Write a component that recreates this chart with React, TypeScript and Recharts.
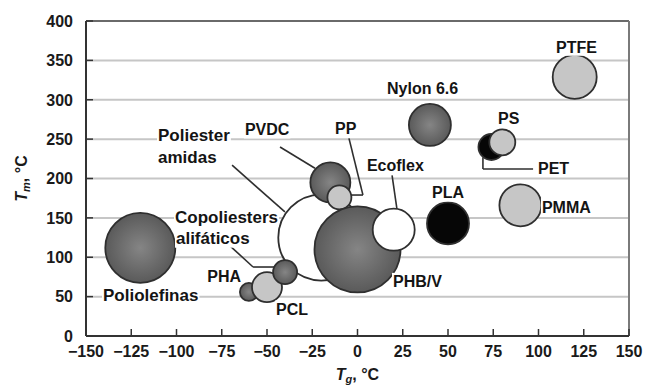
import { ScatterChart, Scatter, XAxis, YAxis, ZAxis, CartesianGrid, ReferenceLine } from "recharts"

// Polímeros: transición vítrea (Tg) y fusión (Tm) en °C, tamaño relativo de la burbuja
const polymers = ["Poliolefinas", "PHA", "PCL", "Poliester amidas", "Copoliesters alifáticos", "PVDC", "PP", "PHB/V", "Ecoflex", "PLA", "Nylon 6.6", "PET", "PS", "PMMA", "PTFE"]
const tg = [-120, -60, -50, -20, -40, -15, -10, 0, 20, 50, 40, 74, 80, 90, 120]
const tm = [112, 56, 62, 125, 81, 195, 176, 110, 135, 143, 268, 240, 246, 166, 329]
const bubbleSize = [1225, 81, 225, 1850, 144, 400, 144, 1850, 441, 441, 441, 169, 169, 441, 484]

const xTicks = [-150, -125, -100, -75, -50, -25, 0, 25, 50, 75, 100, 125, 150]
const yTicks = [0, 50, 100, 150, 200, 250, 300, 350, 400]

// Etiquetas (posición en unidades de los ejes)
const labelText = ["Poliolefinas", "PHA", "PCL", "Copoliesters", "alifáticos", "Poliester", "amidas", "PVDC", "PP", "Nylon 6.6", "Ecoflex", "PS", "PET", "PLA", "PMMA", "PTFE", "PHB/V"]
const labelTg = [-140.6, -83, -45, -100.8, -100.3, -110.2, -110.2, -62.2, -12.4, 16.3, 5.2, 77.6, 99.7, 41.2, 101.9, 109.7, 19.6]
const labelTm = [52, 76, 34, 151, 124, 255, 227, 262, 264, 315, 217, 276, 213, 182, 164, 367, 69]

// Líneas guía de las etiquetas
const leaders: [number, number][][] = [
  [[-69.3, 217], [-40.1, 157.5]],
  [[-42.8, 240], [-23.5, 213]],
  [[-4.7, 251], [3, 179], [-3.6, 179]],
  [[19.1, 204], [21.8, 161]],
  [[69.3, 227], [69.3, 212], [97, 212]],
  [[-72.1, 118], [-57.7, 87.6], [-46, 87.6]],
]

const tone: Record<string, string> = {
  "Poliolefinas": "url(#dark)",
  "PHA": "url(#dark)",
  "PCL": "#c6c6c6",
  "Poliester amidas": "#ffffff",
  "Copoliesters alifáticos": "url(#dark)",
  "PVDC": "url(#dark)",
  "PP": "#c6c6c6",
  "PHB/V": "url(#dark)",
  "Ecoflex": "#ffffff",
  "PLA": "#060606",
  "Nylon 6.6": "url(#dark)",
  "PET": "#060606",
  "PS": "#c6c6c6",
  "PMMA": "#c6c6c6",
  "PTFE": "#c6c6c6",
}

const bigLabels = new Set(["Poliolefinas", "Copoliesters", "alifáticos", "Poliester", "amidas"])

const FONT = '"Liberation Sans", Arial, sans-serif'

const bubbles = polymers.map((name, i) => ({ name, tg: tg[i], tm: tm[i], size: bubbleSize[i] }))
const labels = labelText.map((text, i) => ({ text, tg: labelTg[i], tm: labelTm[i] }))

const ctx = typeof document !== "undefined" ? document.createElement("canvas").getContext("2d") : null
const textWidth = (text: string, size: number) => {
  if (!ctx) return text.length * size * 0.6
  ctx.font = `bold ${size}px ${FONT}`
  return ctx.measureText(text).width
}

const Bubble = (props: any) => {
  const { cx, cy, width, payload } = props
  return <circle cx={cx} cy={cy} r={width / 2} fill={tone[payload.name]} stroke="#2f2f2f" strokeWidth={1.8} />
}

const LabelMark = (props: any) => {
  const { cx, cy, payload } = props
  const fs = bigLabels.has(payload.text) ? 17 : 16
  const w = textWidth(payload.text, fs)
  return (
    <g>
      <rect x={cx - 1} y={cy - fs * 0.55} width={w + 2} height={fs * 1.1} fill="#fff" />
      <text x={cx} y={cy} dy="0.36em" fontSize={fs} fontWeight="bold" fontFamily={FONT} fill="#141414">
        {payload.text}
      </text>
    </g>
  )
}

const XTick = ({ x, y, payload }: any) => (
  <g>
    <line x1={x} x2={x} y1={y - 10} y2={y - 17} stroke="#333" strokeWidth={1.5} />
    <text x={x} y={y} dy="0.71em" textAnchor="middle" fontSize={16} fontWeight="bold" fontFamily={FONT} fill="#1a1a1a">
      {String(payload.value).replace("-", "\u2212")}
    </text>
  </g>
)

const YTick = ({ x, y, payload }: any) => (
  <g>
    <line x1={x + 13} x2={x + 20} y1={y} y2={y} stroke="#333" strokeWidth={1.5} />
    <text x={x} y={y} dy="0.36em" textAnchor="end" fontSize={16} fontWeight="bold" fontFamily={FONT} fill="#1a1a1a">
      {payload.value}
    </text>
  </g>
)

const XTitle = ({ viewBox }: any) => {
  const cx = viewBox.x + viewBox.width / 2
  const cy = viewBox.y + 38
  return (
    <text x={cx} y={cy} dy="0.36em" textAnchor="middle" fontSize={16} fontWeight="bold" fontFamily={FONT} fill="#1a1a1a">
      <tspan fontStyle="italic">T</tspan>
      <tspan fontStyle="italic" fontSize={11} dy={3}>g</tspan>
      <tspan dy={-3}>, °C</tspan>
    </text>
  )
}

const YTitle = ({ viewBox }: any) => {
  const cx = viewBox.x + 21
  const cy = viewBox.y + viewBox.height / 2
  return (
    <text x={cx} y={cy} dy="0.36em" transform={`rotate(-90 ${cx} ${cy})`} textAnchor="middle" fontSize={16} fontWeight="bold" fontFamily={FONT} fill="#1a1a1a">
      <tspan fontStyle="italic">T</tspan>
      <tspan fontStyle="italic" fontSize={11} dy={3}>m</tspan>
      <tspan dy={-3}>, °C</tspan>
    </text>
  )
}

export default function App() {
  return (
    <div style={{ position: "absolute", left: 0, top: 0, background: "#fff" }}>
      <ScatterChart width={645} height={387} margin={{ top: 21, right: 16, bottom: 0, left: 0 }}>
        <defs>
          <radialGradient id="dark" cx="50%" cy="50%" r="50%">
            <stop offset="0%" stopColor="#858585" />
            <stop offset="100%" stopColor="#5a5a5a" />
          </radialGradient>
        </defs>
        <CartesianGrid vertical={false} stroke="#c6c6c6" strokeWidth={2} />
        <XAxis
          type="number"
          dataKey="tg"
          domain={[-150, 150]}
          ticks={xTicks}
          interval={0}
          height={51}
          tickSize={0}
          tickMargin={10}
          tick={<XTick />}
          axisLine={{ stroke: "#333", strokeWidth: 2 }}
          label={{ content: (p: any) => <XTitle {...p} /> }}
        />
        <YAxis
          type="number"
          dataKey="tm"
          domain={[0, 400]}
          ticks={yTicks}
          interval={0}
          width={86}
          tickSize={0}
          tickMargin={13}
          tick={<YTick />}
          axisLine={{ stroke: "#333", strokeWidth: 2 }}
          label={{ content: (p: any) => <YTitle {...p} /> }}
        />
        <ZAxis type="number" dataKey="size" domain={[0, 2000]} range={[0, 2000 * Math.PI]} />
        <ReferenceLine y={400} stroke="#6a6a6a" strokeWidth={2} />
        <ReferenceLine x={150} stroke="#7a7a7a" strokeWidth={2} />
        {leaders.flatMap((path, i) =>
          path.slice(1).map((pt, j) => (
            <ReferenceLine
              key={`l${i}-${j}`}
              segment={[{ x: path[j][0], y: path[j][1] }, { x: pt[0], y: pt[1] }]}
              stroke="#2f2f2f"
              strokeWidth={1.6}
            />
          ))
        )}
        <Scatter data={bubbles} shape={<Bubble />} isAnimationActive={false} />
        <Scatter data={labels} shape={<LabelMark />} isAnimationActive={false} />
      </ScatterChart>
    </div>
  )
}
